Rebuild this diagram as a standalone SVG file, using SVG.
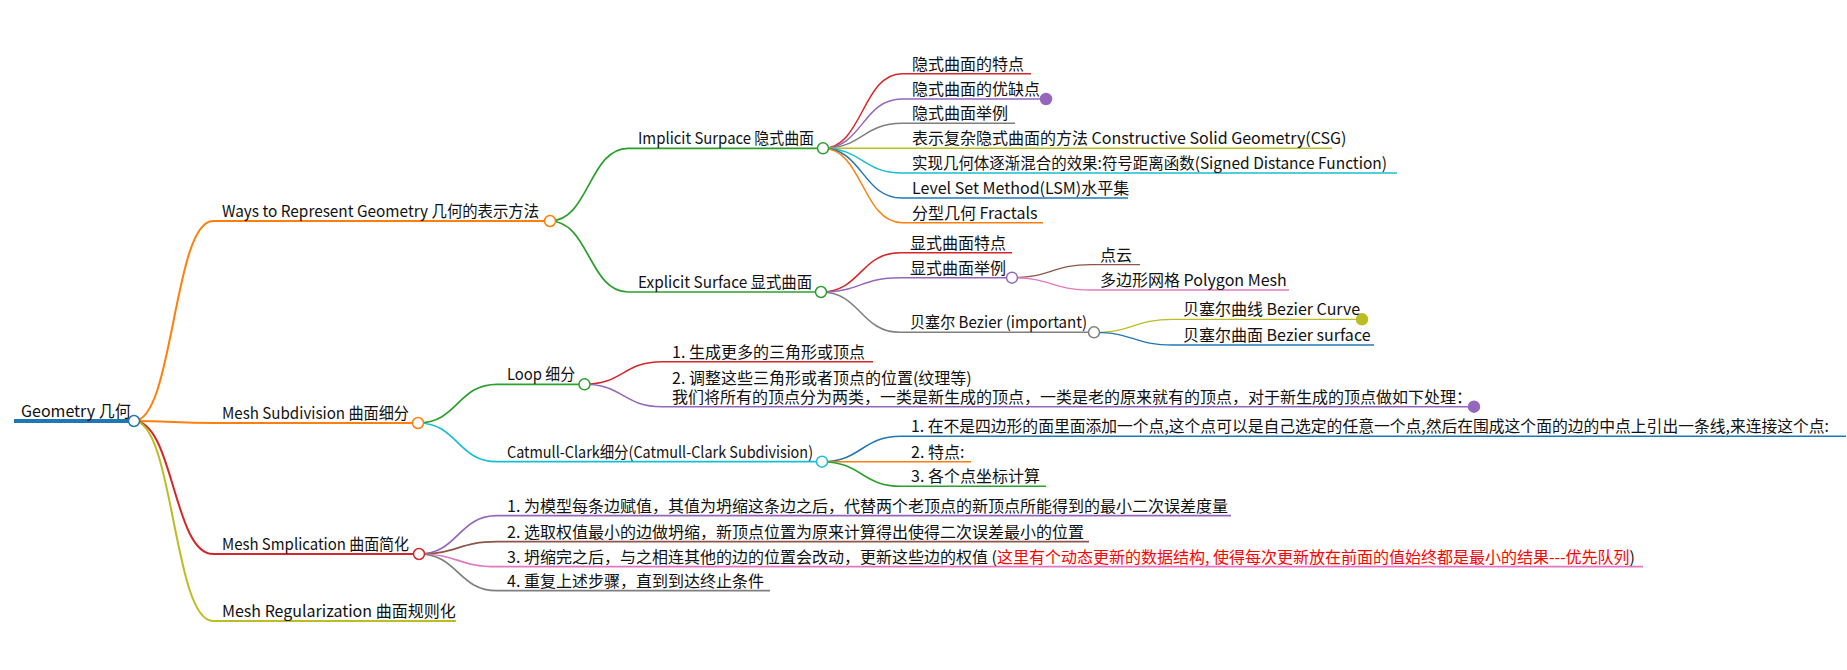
<svg xmlns="http://www.w3.org/2000/svg" width="1847" height="670" viewBox="0 0 1847 670">
<style>
text{font-family:"Noto Sans CJK SC","Noto Sans",sans-serif;font-size:16px;fill:#111}
.red-t{fill:#ff0000}
path{fill:none}
.l0{stroke-width:4}.l1{stroke-width:2}.l2{stroke-width:1.7}.l3{stroke-width:1.5}.l4{stroke-width:1.3}
circle{fill:#fff;stroke-width:1.5}
.blue{stroke:#1f77b4}.orange{stroke:#ff7f0e}.green{stroke:#2ca02c}.red{stroke:#d62728}.purple{stroke:#9467bd}.brown{stroke:#8c564b}.pink{stroke:#e377c2}.gray{stroke:#7f7f7f}.olive{stroke:#bcbd22}.cyan{stroke:#17becf}
.fpurple{fill:#9467bd}.folive{fill:#bcbd22}
</style>
<g id="connectors">
<path class="l1 orange" d="M134,421 C173.5,421 173.5,221 213,221"/>
<path class="l1 orange" d="M134,421 C173.5,421 173.5,423 213,423"/>
<path class="l1 red" d="M134,421 C173.5,421 173.5,554 213,554"/>
<path class="l1 olive" d="M134,421 C173.5,421 173.5,621 213,621"/>
<path class="l2 green" d="M550,221 C589,221 589,148.3 628,148.3"/>
<path class="l2 green" d="M550,221 C589,221 589,292 628,292"/>
<path class="l2 green" d="M418,423 C457.5,423 457.5,384.3 497,384.3"/>
<path class="l2 cyan" d="M418,423 C457.5,423 457.5,461.7 497,461.7"/>
<path class="l2 purple" d="M419,554 C458,554 458,515.7 497,515.7"/>
<path class="l2 brown" d="M419,554 C458,554 458,541.7 497,541.7"/>
<path class="l2 pink" d="M419,554 C458,554 458,566.7 497,566.7"/>
<path class="l2 gray" d="M419,554 C458,554 458,590.7 497,590.7"/>
<path class="l3 red" d="M823,148.3 C862.5,148.3 862.5,73.7 902,73.7"/>
<path class="l3 purple" d="M823,148.3 C862.5,148.3 862.5,99 902,99"/>
<path class="l3 gray" d="M823,148.3 C862.5,148.3 862.5,123.3 902,123.3"/>
<path class="l3 olive" d="M823,148.3 C862.5,148.3 862.5,148.3 902,148.3"/>
<path class="l3 cyan" d="M823,148.3 C862.5,148.3 862.5,173 902,173"/>
<path class="l3 blue" d="M823,148.3 C862.5,148.3 862.5,198 902,198"/>
<path class="l3 orange" d="M823,148.3 C862.5,148.3 862.5,222.7 902,222.7"/>
<path class="l3 red" d="M821,292 C860.5,292 860.5,252.7 900,252.7"/>
<path class="l3 purple" d="M821,292 C860.5,292 860.5,277.7 900,277.7"/>
<path class="l3 gray" d="M821,292 C860.5,292 860.5,332.3 900,332.3"/>
<path class="l4 brown" d="M1012,277.7 C1051.5,277.7 1051.5,264.7 1091,264.7"/>
<path class="l4 pink" d="M1012,277.7 C1051.5,277.7 1051.5,290 1091,290"/>
<path class="l4 olive" d="M1094,332.3 C1133.5,332.3 1133.5,319.3 1173,319.3"/>
<path class="l4 blue" d="M1094,332.3 C1133.5,332.3 1133.5,345 1173,345"/>
<path class="l3 red" d="M584.5,384.3 C623,384.3 623,361.7 662,361.7"/>
<path class="l3 purple" d="M584.5,384.3 C623,384.3 623,406.7 662,406.7"/>
<path class="l3 blue" d="M822,461.7 C861.5,461.7 861.5,436.3 901,436.3"/>
<path class="l3 orange" d="M822,461.7 C861.5,461.7 861.5,461.7 901,461.7"/>
<path class="l3 green" d="M822,461.7 C861.5,461.7 861.5,486.3 901,486.3"/>
</g>
<g id="root">
<path class="l0 blue" d="M14,421 H134"/>
<circle class="blue" cx="134" cy="421" r="5.5"/>
<text x="21" y="416.5">Geometry 几何</text>
</g>
<g id="ways">
<path class="l1 orange" d="M213,221 H550"/>
<circle class="orange" cx="550" cy="221" r="5.5"/>
<text x="222" y="217" textLength="317" lengthAdjust="spacingAndGlyphs">Ways to Represent Geometry 几何的表示方法</text>
</g>
<g id="implicit">
<path class="l2 green" d="M628,148.3 H823"/>
<circle class="green" cx="823" cy="148.3" r="5.5"/>
<text x="638" y="144.3" textLength="176" lengthAdjust="spacingAndGlyphs">Implicit Surpace 隐式曲面</text>
</g>
<g id="imp1"><path class="l3 red" d="M902,73.7 H1031"/><text x="912" y="69.7">隐式曲面的特点</text></g>
<g id="imp2"><path class="l3 purple" d="M902,99 H1046"/><circle class="purple fpurple" cx="1046" cy="99" r="5.5"/><text x="912" y="95">隐式曲面的优缺点</text></g>
<g id="imp3"><path class="l3 gray" d="M902,123.3 H1015"/><text x="912" y="119.3">隐式曲面举例</text></g>
<g id="imp4"><path class="l3 olive" d="M902,148.3 H1332"/><text x="912" y="144.3">表示复杂隐式曲面的方法 Constructive Solid Geometry(CSG)</text></g>
<g id="imp5"><path class="l3 cyan" d="M902,173 H1397"/><text x="912" y="169" textLength="475" lengthAdjust="spacingAndGlyphs">实现几何体逐渐混合的效果:符号距离函数(Signed Distance Function)</text></g>
<g id="imp6"><path class="l3 blue" d="M902,198 H1128"/><text x="912" y="194">Level Set Method(LSM)水平集</text></g>
<g id="imp7"><path class="l3 orange" d="M902,222.7 H1043"/><text x="912" y="218.7">分型几何 Fractals</text></g>
<g id="explicit">
<path class="l2 green" d="M628,292 H821"/>
<circle class="green" cx="821" cy="292" r="5.5"/>
<text x="638" y="288" textLength="174" lengthAdjust="spacingAndGlyphs">Explicit Surface 显式曲面</text>
</g>
<g id="exp1"><path class="l3 red" d="M900,252.7 H1012"/><text x="910" y="248.7">显式曲面特点</text></g>
<g id="exp2"><path class="l3 purple" d="M900,277.7 H1012"/><circle class="purple" cx="1012" cy="277.7" r="5.5"/><text x="910" y="273.7">显式曲面举例</text></g>
<g id="exp2a"><path class="l4 brown" d="M1091,264.7 H1140"/><text x="1100" y="260.7">点云</text></g>
<g id="exp2b"><path class="l4 pink" d="M1091,290 H1289"/><text x="1100" y="286">多边形网格 Polygon Mesh</text></g>
<g id="exp3"><path class="l3 gray" d="M900,332.3 H1094"/><circle class="gray" cx="1094" cy="332.3" r="5.5"/><text x="910" y="328.3" textLength="177" lengthAdjust="spacingAndGlyphs">贝塞尔 Bezier (important)</text></g>
<g id="exp3a"><path class="l4 olive" d="M1173,319.3 H1362"/><circle class="olive folive" cx="1362" cy="319.3" r="5.5"/><text x="1183" y="315.3">贝塞尔曲线 Bezier Curve</text></g>
<g id="exp3b"><path class="l4 blue" d="M1173,345 H1374"/><text x="1183" y="341">贝塞尔曲面 Bezier surface</text></g>
<g id="meshsub">
<path class="l1 orange" d="M213,423 H418"/>
<circle class="orange" cx="418" cy="423" r="5.5"/>
<text x="222" y="419" textLength="187" lengthAdjust="spacingAndGlyphs">Mesh Subdivision 曲面细分</text>
</g>
<g id="loop">
<path class="l2 green" d="M497,384.3 H584.5"/>
<circle class="green" cx="584.5" cy="384.3" r="5.5"/>
<text x="507" y="380.3" textLength="68" lengthAdjust="spacingAndGlyphs">Loop 细分</text>
</g>
<g id="loop1"><path class="l3 red" d="M662,361.7 H873"/><text x="672" y="357.7">1. 生成更多的三角形或顶点</text></g>
<g id="loop2"><path class="l3 purple" d="M662,406.7 H1474"/><circle class="purple fpurple" cx="1474" cy="406.7" r="5.5"/>
<text x="672" y="383.7">2. 调整这些三角形或者顶点的位置(纹理等)<tspan x="672" y="402.7">我们将所有的顶点分为两类，一类是新生成的顶点，一类是老的原来就有的顶点，对于新生成的顶点做如下处理：</tspan></text></g>
<g id="catmull">
<path class="l2 cyan" d="M497,461.7 H822"/>
<circle class="cyan" cx="822" cy="461.7" r="5.5"/>
<text x="507" y="457.7" textLength="306" lengthAdjust="spacingAndGlyphs">Catmull-Clark细分(Catmull-Clark Subdivision)</text>
</g>
<g id="cat1"><path class="l3 blue" d="M901,436.3 H1846"/><text x="911" y="432.3" textLength="918" lengthAdjust="spacingAndGlyphs">1. 在不是四边形的面里面添加一个点,这个点可以是自己选定的任意一个点,然后在围成这个面的边的中点上引出一条线,来连接这个点:</text></g>
<g id="cat2"><path class="l3 orange" d="M901,461.7 H971"/><text x="911" y="457.7">2. 特点:</text></g>
<g id="cat3"><path class="l3 green" d="M901,486.3 H1046"/><text x="911" y="482.3">3. 各个点坐标计算</text></g>
<g id="meshsimp">
<path class="l1 red" d="M213,554 H419"/>
<circle class="red" cx="419" cy="554" r="5.5"/>
<text x="222" y="550" textLength="187" lengthAdjust="spacingAndGlyphs">Mesh Smplication 曲面简化</text>
</g>
<g id="smp1"><path class="l2 purple" d="M497,515.7 H1231"/><text x="507" y="511.7">1. 为模型每条边赋值，其值为坍缩这条边之后，代替两个老顶点的新顶点所能得到的最小二次误差度量</text></g>
<g id="smp2"><path class="l2 brown" d="M497,541.7 H1089"/><text x="507" y="537.7">2. 选取权值最小的边做坍缩，新顶点位置为原来计算得出使得二次误差最小的位置</text></g>
<g id="smp3"><path class="l2 pink" d="M497,566.7 H1643"/><text x="507" y="562.7">3. 坍缩完之后，与之相连其他的边的位置会改动，更新这些边的权值 (<tspan class="red-t">这里有个动态更新的数据结构, 使得每次更新放在前面的值始终都是最小的结果---优先队列</tspan>)</text></g>
<g id="smp4"><path class="l2 gray" d="M497,590.7 H770"/><text x="507" y="586.7">4. 重复上述步骤，直到到达终止条件</text></g>
<g id="meshreg">
<path class="l1 olive" d="M213,621 H456"/>
<text x="222" y="617">Mesh Regularization 曲面规则化</text>
</g>
</svg>
